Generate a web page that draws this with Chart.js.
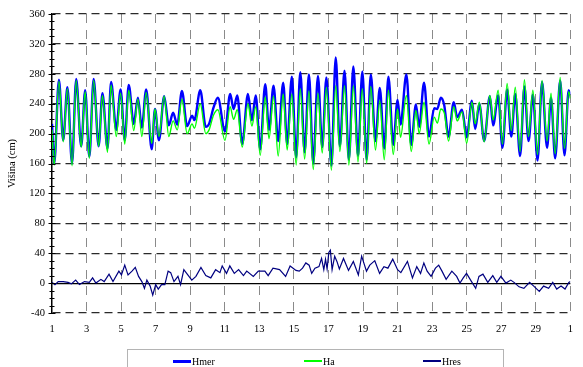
<!DOCTYPE html>
<html>
<head>
<meta charset="utf-8">
<script src="https://cdn.jsdelivr.net/npm/chart.js@4.4.0/dist/chart.umd.min.js"></script>
<style>
  html, body { margin:0; padding:0; background:#fff; }
  #wrap { position:relative; width:583px; height:367px; overflow:hidden; }
  #legend { position:absolute; left:127px; top:349px; width:377px; height:30px;
            border:1px solid #b4b4b4; box-sizing:border-box;
            font-family:'Liberation Serif','Times New Roman',serif; font-size:10px; color:#000; }
  .item { position:absolute; top:6px; height:10px; display:flex; align-items:center; white-space:nowrap; }
  .sw { display:inline-block; width:18px; margin-right:1px; }
</style>
</head>
<body>
<div id="wrap">
  <canvas id="c" width="583" height="367"></canvas>
  <div id="legend">
    <div class="item" style="left:45px"><span class="sw" style="height:3px;background:#0000ff"></span>Hmer</div>
    <div class="item" style="left:176px"><span class="sw" style="height:2px;background:#00ff00"></span>Ha</div>
    <div class="item" style="left:295px"><span class="sw" style="height:2px;background:#000080"></span>Hres</div>
  </div>
</div>
<script>
// ── Data ──────────────────────────────────────────────────────
// times of highs / lows (day of month) with measured and astronomical level, cm
const tideT = [1.00,1.13,1.40,1.65,1.89,2.16,2.40,2.69,2.92,3.16,3.41,3.70,3.92,4.21,4.42,4.72,4.97,5.21,5.44,5.73,
  5.97,6.20,6.45,6.77,6.96,7.19,7.49,7.76,8.01,8.25,8.52,8.82,9.11,9.24,9.58,9.90,10.09,10.35,10.60,11.01,
  11.31,11.51,11.72,12.01,12.34,12.57,12.79,13.05,13.34,13.56,13.82,14.09,14.38,14.61,14.88,15.13,15.37,15.62,15.87,16.12,
  16.39,16.64,16.88,17.17,17.42,17.66,17.93,18.18,18.44,18.71,18.96,19.21,19.45,19.72,19.97,20.23,20.47,20.75,21.00,21.17,
  21.51,21.79,22.06,22.25,22.53,22.82,23.12,23.30,23.50,23.70,23.95,24.25,24.45,24.73,25.00,25.30,25.49,25.73,26.01,26.34,
  26.53,26.82,27.07,27.34,27.58,27.81,28.09,28.34,28.58,28.83,29.10,29.36,29.65,29.88,30.12,30.41,30.66,30.90,31.00];
const hmer = [213,160,272,191,262,160,273,183,258,169,273,183,254,180,269,205,259,191,265,213,
  248,208,259,179,233,191,250,211,228,212,257,210,224,218,258,209,213,235,248,203,
  253,233,251,186,253,218,251,179,266,205,264,190,268,186,276,168,282,175,279,160,
  277,182,275,157,302,183,284,165,290,170,283,165,279,190,261,180,276,185,245,212,
  279,185,239,209,268,196,234,233,248,238,196,242,222,232,195,244,206,240,190,250,
  211,251,181,259,196,253,170,263,190,252,164,269,181,248,167,271,171,258,252];
const ha = [205,158,270,189,260,157,271,182,256,167,271,183,251,175,265,196,254,186,258,204,
  246,196,255,187,233,196,250,196,217,205,246,200,213,207,240,200,205,225,232,191,
  236,219,232,182,240,210,236,171,249,193,250,170,253,178,253,158,260,166,257,152,
  254,174,262,151,264,176,264,158,264,162,260,160,263,178,244,165,258,172,233,195,
  251,176,231,200,242,186,222,214,233,228,190,236,217,229,187,242,213,242,189,251,
  218,258,186,267,204,262,176,272,196,258,172,271,190,254,173,275,180,256,247];

// residual (Hmer − Ha), cm
const resT = [1.00,1.17,1.36,1.65,1.93,2.12,2.37,2.59,2.88,3.16,3.35,3.54,3.83,4.02,4.30,4.53,4.87,5.02,5.21,5.40,
  5.63,5.82,6.01,6.20,6.35,6.49,6.68,6.83,7.00,7.15,7.34,7.53,7.72,7.87,8.06,8.29,8.44,8.63,8.86,9.09,
  9.33,9.62,9.90,10.19,10.47,10.72,10.85,11.10,11.29,11.55,11.80,12.08,12.27,12.65,12.94,13.32,13.51,13.79,14.17,14.52,
  14.78,15.12,15.31,15.50,15.69,15.88,16.03,16.22,16.45,16.60,16.73,16.83,16.92,17.02,17.11,17.21,17.36,17.49,17.63,17.87,
  18.16,18.44,18.73,18.92,19.20,19.39,19.68,19.96,20.21,20.44,20.72,21.00,21.19,21.57,21.86,22.11,22.33,22.52,22.71,22.94,
  23.19,23.38,23.57,23.81,24.14,24.42,24.61,24.80,24.99,25.28,25.52,25.71,25.94,26.22,26.51,26.74,26.98,27.27,27.55,27.74,
  28.03,28.31,28.64,28.88,29.20,29.45,29.74,29.98,30.21,30.46,30.69,30.91,31.00];
const hres = [1,-2,2,2,1,-1,4,-2,2,1,7,0,5,2,12,2,16,11,24,11,
  16,21,9,2,-7,4,-4,-16,-2,-8,-2,-2,16,14,2,9,-2,18,11,4,
  9,21,10,7,18,14,23,13,23,13,18,10,16,9,16,16,10,20,18,9,
  23,17,16,20,27,24,13,20,22,33,18,32,19,41,44,18,36,29,19,33,
  17,29,11,36,16,24,30,13,22,20,32,18,14,29,7,22,13,27,16,9,
  20,24,16,5,16,9,0,7,13,2,-7,9,12,1,10,1,9,0,4,1,
  -5,-7,1,-4,-11,-4,-7,1,-8,-4,-8,1,2];

const FONT = "'Liberation Serif','Times New Roman',serif";

// ── Minor ticks crossing the y axis ────────────────────────────
const axisTicks = {
  id:'axisTicks',
  afterDraw(chart) {
    const ys = chart.scales.y, x = chart.chartArea.left, c = chart.ctx;
    c.save();
    c.strokeStyle = '#000'; c.lineWidth = 1;
    for (let v = ys.min; v <= ys.max; v += 10) {
      const y = Math.round(ys.getPixelForValue(v)) + 0.5;
      const h = v % 40 === 0 ? 3.5 : 2.5;
      c.beginPath(); c.moveTo(x - h, y); c.lineTo(x + h, y); c.stroke();
    }
    c.restore();
  }
};

const pts = (xs, ys) => xs.map((t, i) => ({ x:t, y:ys[i] }));

new Chart(document.getElementById('c'), {
  type:'line',
  data:{ datasets:[
    { label:'Hmer', data:pts(tideT, hmer), borderColor:'#0000ff', backgroundColor:'#0000ff',
      borderWidth:2.4, cubicInterpolationMode:'monotone', order:1 },
    { label:'Ha', data:pts(tideT, ha), borderColor:'#00ff00', backgroundColor:'#00ff00',
      borderWidth:1.4, cubicInterpolationMode:'monotone', order:0 },
    { label:'Hres', data:pts(resT, hres), borderColor:'#000080', backgroundColor:'#000080',
      borderWidth:1.2, tension:0, order:2 },
  ]},
  options:{
    responsive:false, animation:false,
    layout:{ padding:{ top:14, right:4, left:0, bottom:0 } },
    elements:{ point:{ radius:0 } },
    plugins:{ legend:{ display:false }, tooltip:{ enabled:false } },
    scales:{
      x:{ type:'linear', min:1, max:31,
          afterFit:s => { s.height = 54; },
          border:{ display:false, dash:[9,7] },
          grid:{ drawTicks:false, lineWidth:1,
                 color:c => (c.tick && c.tick.value === 1) ? 'rgba(0,0,0,0)' : '#8a8a8a' },
          ticks:{ stepSize:2, padding:10, autoSkip:false, maxRotation:0, color:'#000',
                  font:{ family:FONT, size:10.5 }, callback:v => v > 30 ? v - 30 : v } },
      y:{ min:-40, max:360,
          afterFit:s => { s.width = 52; },
          border:{ display:true, color:'#000', width:1.5,
                   dash:c => (c.type === 'tick' && c.tick.value !== 0) ? [8,5] : [] },
          grid:{ drawTicks:false, lineWidth:1.2,
                 color:c => (c.tick && c.tick.value === 0) ? '#000' : '#2a2a2a' },
          ticks:{ stepSize:40, padding:7, color:'#000', font:{ family:FONT, size:10.5 } },
          title:{ display:true, text:'Višina (cm)', color:'#000',
                  font:{ family:FONT, size:10.5 }, padding:{ top:6, bottom:0 } } }
    }
  },
  plugins:[axisTicks]
});
</script>
</body>
</html>
